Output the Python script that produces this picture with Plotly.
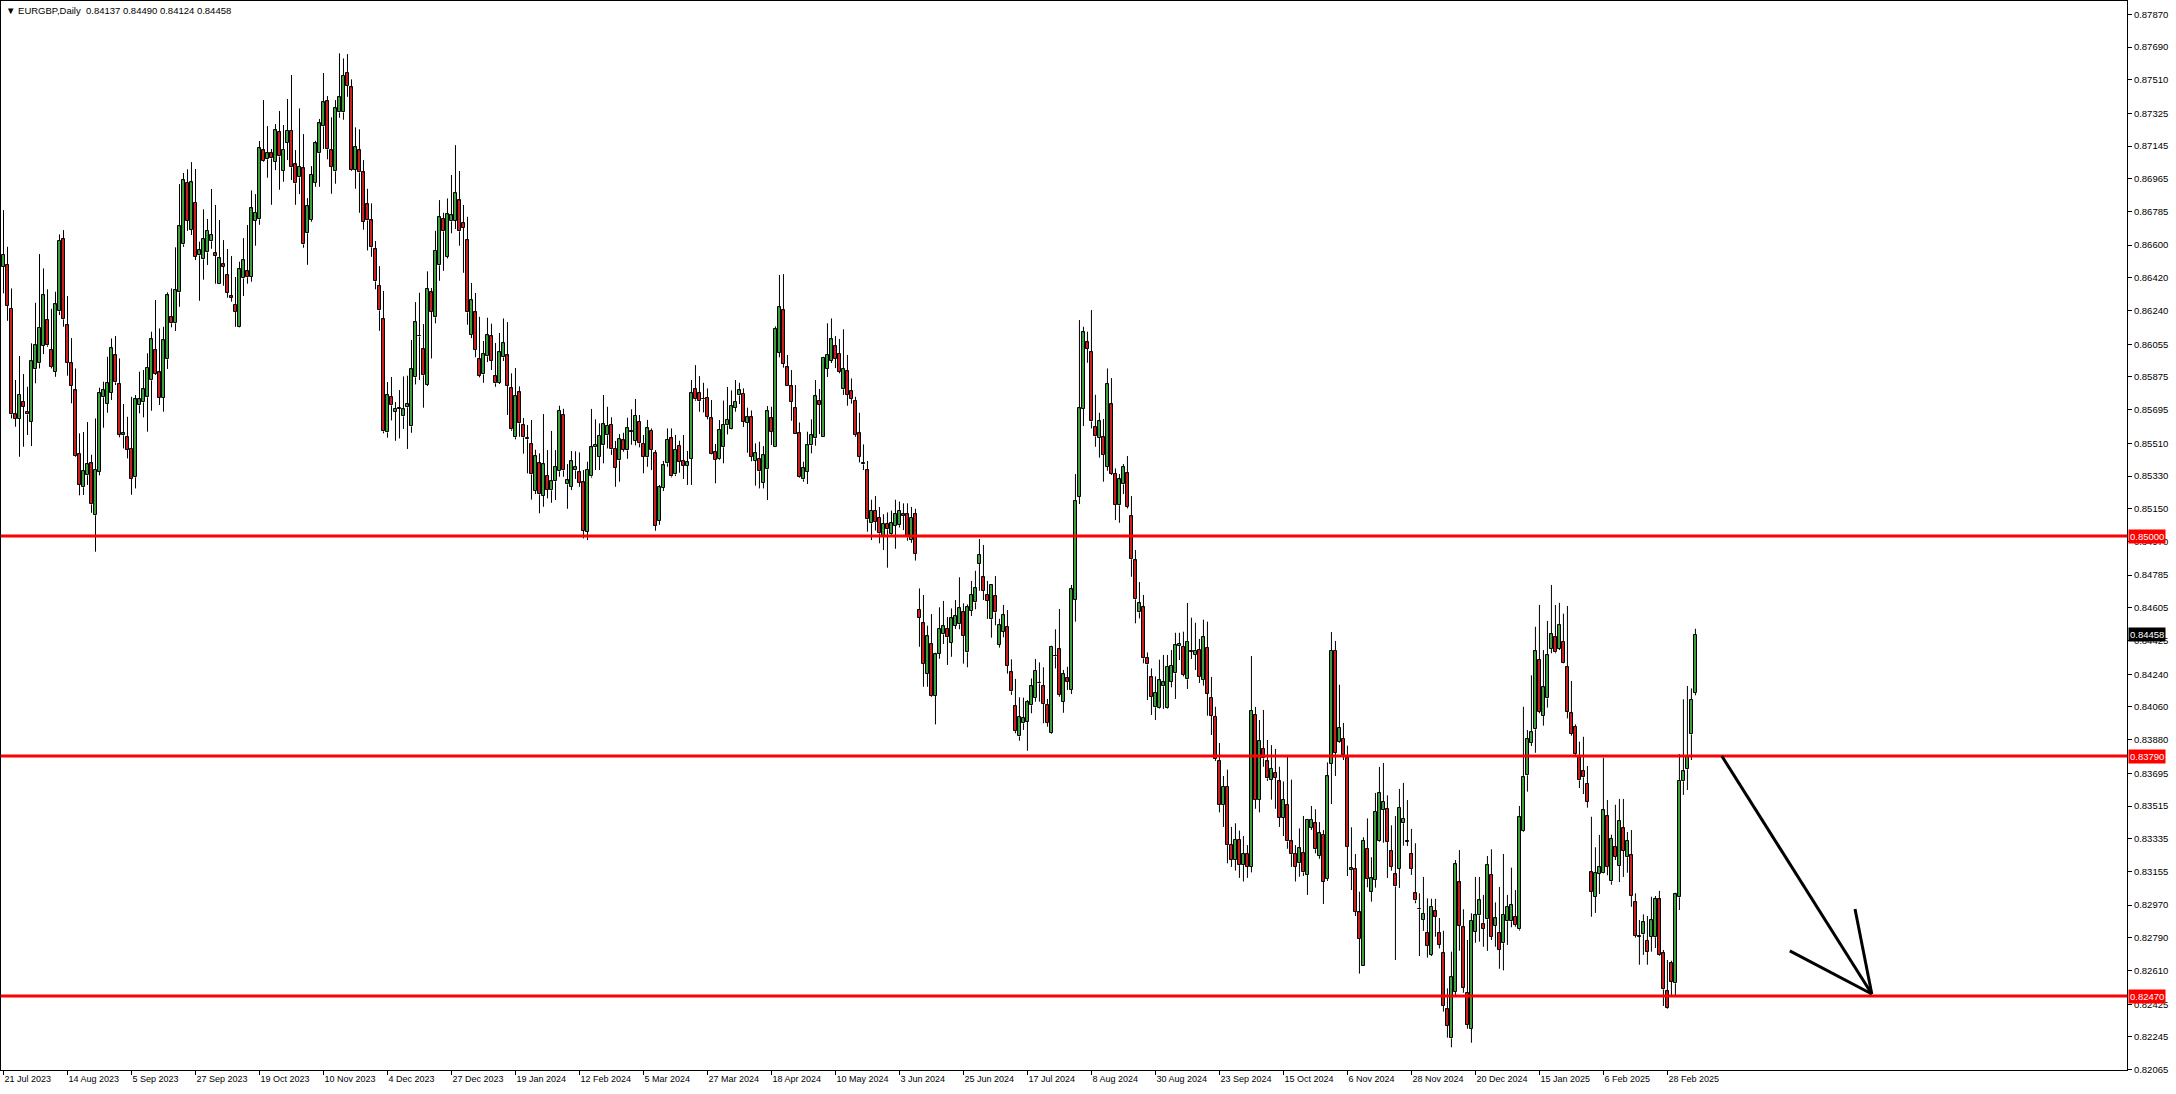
import plotly.graph_objects as go

# ---------------- data (EURGBP daily) ----------------
date_labels = ["21 Jul 2023", "14 Aug 2023", "5 Sep 2023", "27 Sep 2023", "19 Oct 2023",
               "10 Nov 2023", "4 Dec 2023", "27 Dec 2023", "19 Jan 2024", "12 Feb 2024",
               "5 Mar 2024", "27 Mar 2024", "18 Apr 2024", "10 May 2024", "3 Jun 2024",
               "25 Jun 2024", "17 Jul 2024", "8 Aug 2024", "30 Aug 2024", "23 Sep 2024",
               "15 Oct 2024", "6 Nov 2024", "28 Nov 2024", "20 Dec 2024", "15 Jan 2025",
               "6 Feb 2025", "28 Feb 2025"]
bars_per_label = 16

price_ticks = [0.87870, 0.87690, 0.87510, 0.87325, 0.87145, 0.86965, 0.86785, 0.86600,
               0.86420, 0.86240, 0.86055, 0.85875, 0.85695, 0.85510, 0.85330, 0.85150,
               0.84970, 0.84785, 0.84605, 0.84425, 0.84240, 0.84060, 0.83880, 0.83695,
               0.83515, 0.83335, 0.83155, 0.82970, 0.82790, 0.82610, 0.82425, 0.82245,
               0.82065]

levels = [0.85000, 0.83790, 0.82470]

open_ = [
 .86481,.86491,.86249,.85669,.85645,.85737,.85682,.85629,.85917,.85950,
 .86045,.86188,.86023,.85904,.86236,.86632,.86159,.85950,.85801,.85451,
 .85268,.85334,.85400,.85114,.85354,.85763,.85728,.85788,.85994,.85836,
 .85554,.85543,.85479,.85323,.85719,.85735,.85763,.85856,.86021,.85900,
 .85761,.85972,.86203,.86170,.86340,.86604,.86942,.86685,.86832,.86544,
 .86522,.86560,.86621,.86555,.86388,.86494,.86434,.86318,.86271,.86151,
 .86417,.86456,.86426,.86733,.86742,.87121,.87072,.87105,.87059,.87224,
 .87009,.87163,.87228,.87044,.86973,.87022,.86665,.86740,.86943,.87105,
 .87253,.87391,.87121,.87006,.87330,.87330,.87545,.87468,.87015,.87121,
 .87000,.86824,.86736,.86577,.86377,.86192,.85570,.85763,.85684,.85700,
 .85658,.85708,.85603,.85873,.86102,.86027,.85831,.86340,.86203,.86489,
 .86742,.86535,.86731,.86734,.86846,.86720,.86626,.86107,.86230,.85972,
 .85889,.85988,.86098,.85878,.85843,.85983,.85994,.85812,.85543,.85790,
 .85609,.85539,.85504,.85248,.85400,.85222,.85330,.85251,.85301,.85356,
 .85664,.85284,.85271,.85361,.85350,.85295,.85024,.85328,.85488,.85436,
 .85499,.85554,.85611,.85477,.85416,.85526,.85471,.85578,.85523,.85629,
 .85506,.85433,.85578,.85455,.85084,.85264,.85400,.85537,.85339,.85495,
 .85411,.85385,.85425,.85807,.85785,.85755,.85761,.85647,.85460,.85422,
 .85488,.85609,.85587,.85706,.85774,.85781,.85623,.85653,.85414,.85422,
 .85293,.85367,.85647,.85491,.86007,.86241,.85928,.85823,.85702,.85565,
 .85312,.85354,.85499,.85537,.85743,.85546,.85920,.85964,.86043,.86001,
 .85807,.85906,.85796,.85743,.85565,.85400,.85361,.85070,.85140,.85100,
 .85000,.85066,.85010,.85057,.85060,.85120,.85120,.84978,.85120,.84593,
 .84520,.84243,.84404,.84122,.84353,.84459,.84489,.84413,.84507,.84514,
 .84580,.84360,.84589,.84635,.84848,.84773,.84674,.84542,.84668,.84402,
 .84474,.84498,.84250,.84063,.83898,.83970,.83979,.84069,.84111,.84193,
 .84173,.84069,.83915,.84342,.84377,.84089,.84217,.84155,.84650,.85216,
 .85700,.86065,.86010,.85598,.85541,.85543,.85381,.85724,.85341,.85169,
 .85284,.85345,.85108,.84866,.84580,.84608,.84327,.84223,.84058,.84052,
 .84173,.84052,.84199,.84245,.84397,.84390,.84212,.84368,.84347,.84373,
 .84210,.84384,.84109,.84005,.83764,.83520,.83620,.83300,.83220,.83330,
 .83190,.83250,.83180,.84015,.83550,.83830,.83760,.83660,.83697,.83650,
 .83450,.83520,.83320,.83250,.83200,.83255,.83137,.83396,.83420,.83240,
 .83356,.83115,.83748,.84368,.83869,.83884,.83779,.83163,.83169,.82930,
 .82637,.83279,.83044,.83110,.83324,.83493,.83499,.83266,.83139,.83170,
 .83420,.83323,.83249,.83035,.82950,.82890,.82817,.82697,.82936,.82818,
 .82705,.82397,.82237,.82494,.83095,.82848,.82488,.82290,.82824,.82914,
 .82864,.82892,.83134,.82855,.82815,.82760,.82881,.82881,.82906,.82837,
 .83376,.83684,.83863,.83937,.84318,.84010,.84107,.84380,.84443,.84380,
 .84417,.84278,.84025,.83950,.83783,.83708,.83636,.83150,.83016,.83143,
 .83145,.83458,.83101,.83288,.83187,.83392,.83233,.83244,.82985,.82798,
 .82809,.82773,.82796,.82793,.83002,.82705,.82496,.82650,.82540,.83013,
 .83651,.83717,.83909,.84137]

high_ = [
 .86793,.86591,.86362,.85858,.85990,.85891,.85821,.86060,.86283,.86551,
 .86472,.86357,.86250,.86344,.86659,.86683,.86320,.86089,.85922,.85565,
 .85572,.85627,.85447,.85647,.85816,.85849,.85986,.86087,.86100,.85977,
 .85726,.85656,.85766,.85776,.85904,.85913,.86005,.86124,.86298,.86142,
 .86151,.86340,.86362,.86588,.86936,.86997,.87017,.87057,.87019,.86619,
 .86797,.86744,.86909,.86821,.86738,.86628,.86579,.86540,.86425,.86509,
 .86639,.86711,.86901,.86881,.87173,.87398,.87255,.87129,.87266,.87338,
 .87261,.87404,.87536,.87123,.87352,.87211,.86859,.87035,.87174,.87294,
 .87547,.87420,.87303,.87398,.87655,.87627,.87651,.87512,.87248,.87237,
 .87068,.86910,.86830,.86623,.86485,.86348,.85847,.85875,.85737,.85803,
 .85878,.85882,.86078,.86287,.86338,.86166,.86456,.86364,.86679,.86848,
 .86778,.86857,.86986,.87150,.87008,.86821,.86756,.86392,.86337,.86206,
 .86073,.86201,.86168,.86062,.86117,.86197,.86177,.85895,.85924,.85823,
 .85649,.85611,.85638,.85475,.85455,.85671,.85473,.85578,.85473,.85717,
 .85700,.85396,.85468,.85466,.85460,.85363,.85409,.85699,.85642,.85620,
 .85776,.85711,.85653,.85523,.85561,.85568,.85651,.85697,.85754,.85666,
 .85556,.85639,.85592,.85473,.85281,.85413,.85592,.85592,.85556,.85524,
 .85556,.85468,.85858,.85940,.85880,.85843,.85812,.85748,.85506,.85638,
 .85745,.85820,.85801,.85858,.85843,.85812,.85706,.85691,.85510,.85519,
 .85495,.85715,.85711,.86153,.86436,.86441,.85996,.85913,.85831,.85625,
 .85409,.85574,.85642,.85858,.85809,.85986,.86170,.86197,.86100,.86084,
 .86137,.85996,.85867,.85766,.85678,.85504,.85413,.85200,.85220,.85160,
 .85120,.85130,.85140,.85200,.85190,.85180,.85180,.85160,.85150,.84712,
 .84676,.84507,.84571,.84358,.84608,.84643,.84555,.84602,.84648,.84773,
 .84630,.84624,.84753,.84809,.84984,.84951,.84753,.84736,.84780,.84545,
 .84621,.84593,.84322,.84214,.84113,.84111,.84098,.84217,.84324,.84305,
 .84278,.84104,.84397,.84487,.84599,.84263,.84281,.84731,.85341,.86188,
 .86151,.86124,.86243,.85777,.85678,.85644,.85922,.85869,.85372,.85341,
 .85396,.85440,.85220,.84923,.84747,.84676,.84360,.84272,.84228,.84320,
 .84346,.84346,.84373,.84468,.84468,.84474,.84632,.84551,.84523,.84434,
 .84540,.84529,.84225,.84061,.83862,.83680,.83715,.83400,.83420,.83380,
 .83350,.83300,.84340,.84060,.83988,.84043,.83878,.83850,.83829,.83731,
 .83650,.83795,.83660,.83300,.83392,.83460,.83444,.83515,.83497,.83427,
 .83383,.83755,.84472,.84423,.84182,.83972,.83847,.83398,.83251,.83044,
 .83343,.83447,.83233,.83587,.83730,.83752,.83574,.83409,.83460,.83609,
 .83642,.83548,.83389,.83310,.83035,.83125,.83007,.83005,.83004,.82899,
 .82829,.82512,.82714,.83218,.83273,.82947,.82778,.82925,.83125,.83125,
 .83026,.83240,.83277,.82985,.83070,.83251,.83026,.83176,.83053,.83515,
 .84061,.83933,.84234,.84501,.84621,.84373,.84533,.84731,.84621,.84633,
 .84573,.84615,.84203,.83964,.83869,.83896,.83735,.83456,.83288,.83356,
 .83781,.83548,.83357,.83522,.83554,.83554,.83372,.83383,.83035,.82888,
 .82919,.82910,.83016,.83020,.83048,.82723,.82668,.82664,.83038,.83801,
 .84102,.84175,.84162,.84490]

low_ = [
 .86335,.86184,.85647,.85601,.85436,.85491,.85556,.85495,.85840,.85922,
 .86001,.86041,.85922,.85876,.86216,.86151,.85882,.85730,.85436,.85224,
 .85226,.85281,.85128,.84914,.85334,.85596,.85678,.85748,.85831,.85543,
 .85482,.85427,.85227,.85262,.85675,.85653,.85574,.85689,.85886,.85721,
 .85684,.85919,.86148,.86128,.86261,.86591,.86679,.86656,.86518,.86294,
 .86410,.86491,.86580,.86388,.86386,.86377,.86311,.86289,.86151,.86148,
 .86320,.86388,.86399,.86597,.86712,.87059,.86971,.86822,.87013,.86905,
 .86949,.87068,.86958,.86822,.86881,.86586,.86492,.86729,.86921,.86921,
 .87129,.87072,.86883,.86938,.87301,.87290,.87416,.87009,.86910,.86778,
 .86685,.86571,.86536,.86357,.86129,.85565,.85541,.85636,.85524,.85537,
 .85589,.85479,.85568,.85834,.85858,.85706,.85825,.85977,.86170,.86404,
 .86459,.86527,.86665,.86689,.86597,.86448,.86162,.86089,.85983,.85873,
 .85843,.85957,.85913,.85821,.85836,.85963,.85666,.85579,.85532,.85546,
 .85453,.85345,.85200,.85231,.85125,.85161,.85207,.85183,.85198,.85326,
 .85326,.85150,.85253,.85314,.85271,.84987,.84978,.85321,.85363,.85363,
 .85400,.85482,.85446,.85271,.85299,.85464,.85425,.85502,.85499,.85488,
 .85345,.85381,.85363,.85029,.85062,.85248,.85381,.85323,.85330,.85348,
 .85314,.85281,.85281,.85744,.85684,.85680,.85642,.85449,.85290,.85418,
 .85400,.85559,.85585,.85684,.85726,.85600,.85458,.85411,.85277,.85262,
 .85262,.85198,.85501,.85491,.85983,.85926,.85827,.85634,.85563,.85321,
 .85299,.85286,.85455,.85497,.85561,.85545,.85875,.85952,.85924,.85895,
 .85776,.85717,.85728,.85546,.85405,.85363,.85024,.84978,.85030,.84960,
 .84923,.84826,.85000,.84930,.85047,.85033,.84974,.84963,.84865,.84391,
 .84171,.84171,.84116,.83964,.84325,.84406,.84291,.84336,.84489,.84487,
 .84298,.84278,.84560,.84597,.84699,.84648,.84544,.84441,.84509,.84386,
 .84443,.84243,.84126,.83915,.83874,.83933,.83819,.84025,.84089,.84089,
 .83970,.83951,.83911,.84272,.84116,.84028,.84153,.84131,.84529,.85176,
 .85605,.85953,.85592,.85491,.85431,.85299,.85359,.85336,.85088,.85073,
 .85231,.85152,.84776,.84520,.84547,.84300,.84098,.84016,.83988,.84049,
 .84049,.84049,.84168,.84104,.84318,.84228,.84159,.84324,.84263,.84192,
 .84177,.84012,.83906,.83763,.83480,.83400,.83200,.83180,.83160,.83120,
 .83100,.83120,.83150,.83500,.83480,.83731,.83653,.83550,.83500,.83400,
 .83350,.83280,.83180,.83100,.83126,.83130,.83026,.83383,.83255,.83225,
 .82976,.83103,.83526,.83680,.83863,.83768,.83130,.83053,.82910,.82593,
 .82637,.83068,.82989,.83066,.83319,.83313,.83119,.83159,.82668,.83064,
 .83297,.83295,.83136,.82980,.82690,.82828,.82681,.82690,.82796,.82732,
 .82384,.82241,.82188,.82466,.82719,.82488,.82290,.82213,.82763,.82769,
 .82741,.82718,.82778,.82741,.82620,.82611,.82751,.82848,.82851,.82830,
 .83372,.83594,.83845,.83808,.84025,.83957,.84056,.84355,.84355,.84373,
 .84300,.83997,.83902,.83786,.83614,.83581,.83506,.82906,.82927,.83031,
 .83143,.83134,.83082,.83218,.83097,.83125,.83148,.82961,.82791,.82642,
 .82696,.82642,.82714,.82734,.82690,.82415,.82400,.82466,.82466,.82943,
 .83576,.83603,.83768,.84124]

close_ = [
 .86546,.86265,.85669,.85645,.85776,.85711,.85669,.85961,.86049,.86144,
 .86324,.86049,.85931,.86274,.86623,.86192,.85953,.85827,.85440,.85282,
 .85356,.85394,.85174,.85363,.85785,.85801,.85840,.86032,.85845,.85556,
 .85565,.85473,.85315,.85752,.85752,.85807,.85926,.86082,.85891,.85761,
 .86076,.86324,.86170,.86351,.86703,.86956,.86734,.86945,.86536,.86571,
 .86632,.86678,.86654,.86542,.86527,.86481,.86338,.86311,.86234,.86467,
 .86516,.86423,.86802,.86777,.87132,.87063,.87105,.87077,.87231,.87088,
 .87125,.87229,.87028,.86940,.87031,.86604,.86813,.86986,.87160,.87270,
 .87385,.87127,.87031,.87352,.87413,.87530,.87477,.87013,.87138,.87000,
 .86729,.86736,.86588,.86401,.86241,.85576,.85774,.85719,.85699,.85702,
 .85697,.85724,.85917,.86175,.86098,.85884,.86357,.86234,.86569,.86753,
 .86676,.86769,.86764,.86885,.86676,.86696,.86230,.86296,.86025,.85882,
 .85999,.86104,.85964,.85840,.86010,.86060,.85827,.85587,.85768,.85620,
 .85543,.85532,.85339,.85438,.85229,.85394,.85255,.85301,.85380,.85688,
 .85361,.85306,.85411,.85378,.85293,.85029,.85363,.85488,.85501,.85550,
 .85614,.85605,.85477,.85376,.85532,.85473,.85592,.85574,.85660,.85510,
 .85436,.85592,.85473,.85057,.85268,.85389,.85528,.85328,.85473,.85407,
 .85387,.85405,.85785,.85752,.85741,.85752,.85656,.85453,.85420,.85583,
 .85612,.85638,.85713,.85737,.85801,.85629,.85653,.85436,.85455,.85356,
 .85444,.85686,.85574,.86137,.86258,.85948,.85827,.85739,.85563,.85325,
 .85372,.85499,.85554,.85768,.85721,.85979,.85994,.86082,.85975,.85904,
 .85917,.85777,.85754,.85557,.85436,.85394,.85092,.85140,.85080,.85015,
 .85066,.85037,.85070,.85120,.85140,.85110,.84993,.85100,.84903,.84551,
 .84298,.84448,.84122,.84349,.84487,.84503,.84443,.84547,.84558,.84602,
 .84450,.84608,.84674,.84712,.84894,.84699,.84644,.84729,.84580,.84509,
 .84564,.84287,.84146,.83929,.84003,.83997,.84085,.84173,.84258,.84190,
 .84078,.83973,.84390,.84338,.84127,.84239,.84199,.84707,.85191,.85702,
 .86120,.86030,.85631,.85548,.85631,.85447,.85834,.85343,.85172,.85312,
 .85378,.85161,.84872,.84652,.84630,.84327,.84294,.84116,.84137,.84206,
 .84195,.84280,.84285,.84399,.84406,.84236,.84417,.84364,.84368,.84226,
 .84443,.84133,.84012,.83774,.83520,.83620,.83300,.83220,.83330,.83190,
 .83250,.83180,.84038,.83550,.83875,.83777,.83667,.83720,.83671,.83450,
 .83550,.83320,.83250,.83180,.83282,.83150,.83438,.83438,.83277,.83365,
 .83099,.83678,.84368,.83808,.83944,.83797,.83291,.83172,.82934,.82785,
 .83323,.83115,.83117,.83482,.83585,.83537,.83319,.83181,.83073,.83504,
 .83444,.83319,.83170,.82996,.82947,.82921,.82745,.82960,.82905,.82751,
 .82417,.82307,.82573,.83194,.82855,.82516,.82312,.82883,.82914,.82996,
 .82840,.83189,.82796,.82897,.82723,.82916,.82958,.82969,.82862,.83453,
 .83673,.83882,.83920,.84366,.84032,.84168,.84344,.84459,.84360,.84509,
 .84303,.84034,.83913,.83801,.83656,.83673,.83539,.83044,.83145,.83178,
 .83491,.83181,.83334,.83235,.83433,.83269,.83323,.83022,.82802,.82795,
 .82875,.82714,.82886,.83002,.82694,.82507,.82406,.82549,.83029,.83653,
 .83706,.83783,.84098,.84458]

# hand-drawn arrow (bar index, price) -- annotation drawing on the chart
arrow_start = (429.6, 0.83790)
arrow_tip = (467.1, 0.82481)
arrow_wing_left = (446.6, 0.82718)
arrow_wing_up = (462.9, 0.82949)

header_text = "EURGBP,Daily  0.84137 0.84490 0.84124 0.84458"

# ---------------- figure ----------------
W, H = 2176, 1094
n = len(close_)
xs = list(range(n))

GREEN = "#3c9f3c"
RED = "#c81e1e"
FONT = "Liberation Sans, Arial, sans-serif"
FS_X = 9
FS_Y = 9.5

body_lo = [min(o, c) for o, c in zip(open_, close_)]
body_hi = [max(o, c) for o, c in zip(open_, close_)]
body_h = [max(h - l, 0.000005) for h, l in zip(body_hi, body_lo)]
body_col = [GREEN if c >= o else RED for o, c in zip(open_, close_)]

# wicks: drawn above and below the body so they do not cross it
wx, wy = [], []
for i in range(n):
    wx += [i, i, None, i, i, None]
    wy += [high_[i], body_hi[i], None, body_lo[i], low_[i], None]

fig = go.Figure()
fig.add_trace(go.Scatter(x=wx, y=wy, mode="lines", line=dict(color="black", width=1),
                         hoverinfo="skip", showlegend=False, connectgaps=False))
fig.add_trace(go.Bar(x=xs, y=body_h, base=body_lo, width=0.58,
                     marker=dict(color=body_col, line=dict(color="black", width=1)),
                     hoverinfo="skip", showlegend=False))

shapes = []
for lv in levels:
    shapes.append(dict(type="line", xref="paper", yref="y", x0=0, x1=1, y0=lv, y1=lv,
                       line=dict(color="#ff0000", width=3), layer="above"))
for a, b in [(arrow_start, arrow_tip), (arrow_wing_left, arrow_tip), (arrow_wing_up, arrow_tip)]:
    shapes.append(dict(type="line", xref="x", yref="y", x0=a[0], y0=a[1], x1=b[0], y1=b[1],
                       line=dict(color="black", width=3), layer="above"))

annotations = []
for lv in levels:
    annotations.append(dict(xref="paper", yref="y", x=1, y=lv, xanchor="left", yanchor="middle",
                            text=f"{lv:.5f}", showarrow=False, bgcolor="#ff0000",
                            font=dict(color="white", size=FS_Y, family=FONT),
                            borderpad=1, xshift=1))
annotations.append(dict(xref="paper", yref="y", x=1, y=close_[-1], xanchor="left", yanchor="middle",
                        text=f"{close_[-1]:.5f}", showarrow=False, bgcolor="black",
                        font=dict(color="white", size=FS_Y, family=FONT), borderpad=1, xshift=1))
annotations.append(dict(xref="paper", yref="paper", x=0, y=1, xanchor="left", yanchor="top",
                        text="\u25bc " + header_text, showarrow=False,
                        font=dict(color="black", size=FS_Y, family=FONT), xshift=3, yshift=-2))

tick_vals_x = [i * bars_per_label for i in range(len(date_labels))]

fig.update_layout(
    width=W, height=H,
    margin=dict(l=1, r=49, t=1, b=24),
    paper_bgcolor="white", plot_bgcolor="white",
    shapes=shapes, annotations=annotations, bargap=0,
    font=dict(family=FONT, size=FS_X, color="black"),
    xaxis=dict(range=[-0.625, 530.9], automargin=False,
               tickmode="array", tickvals=tick_vals_x, ticktext=date_labels, tickangle=0,
               ticklabelposition="outside right", ticks="outside", ticklen=4,
               tickcolor="black", showgrid=False, zeroline=False,
               showline=True, linecolor="black", linewidth=1, mirror=True,
               tickfont=dict(size=FS_X, family=FONT, color="black")),
    yaxis=dict(range=[0.82063, 0.87943], side="right", tickmode="array", automargin=False,
               tickvals=price_ticks, ticktext=[f"{v:.5f}" for v in price_ticks],
               ticks="outside", ticklen=4, tickcolor="black", showgrid=False,
               zeroline=False, showline=True, linecolor="black", linewidth=1, mirror=True,
               tickfont=dict(size=FS_Y, family=FONT, color="black")),
)

fig.write_html("out.html", include_plotlyjs=True, full_html=True,
               config={"displayModeBar": False},
               post_script="document.body.style.margin='0';document.body.style.overflow='hidden';")
